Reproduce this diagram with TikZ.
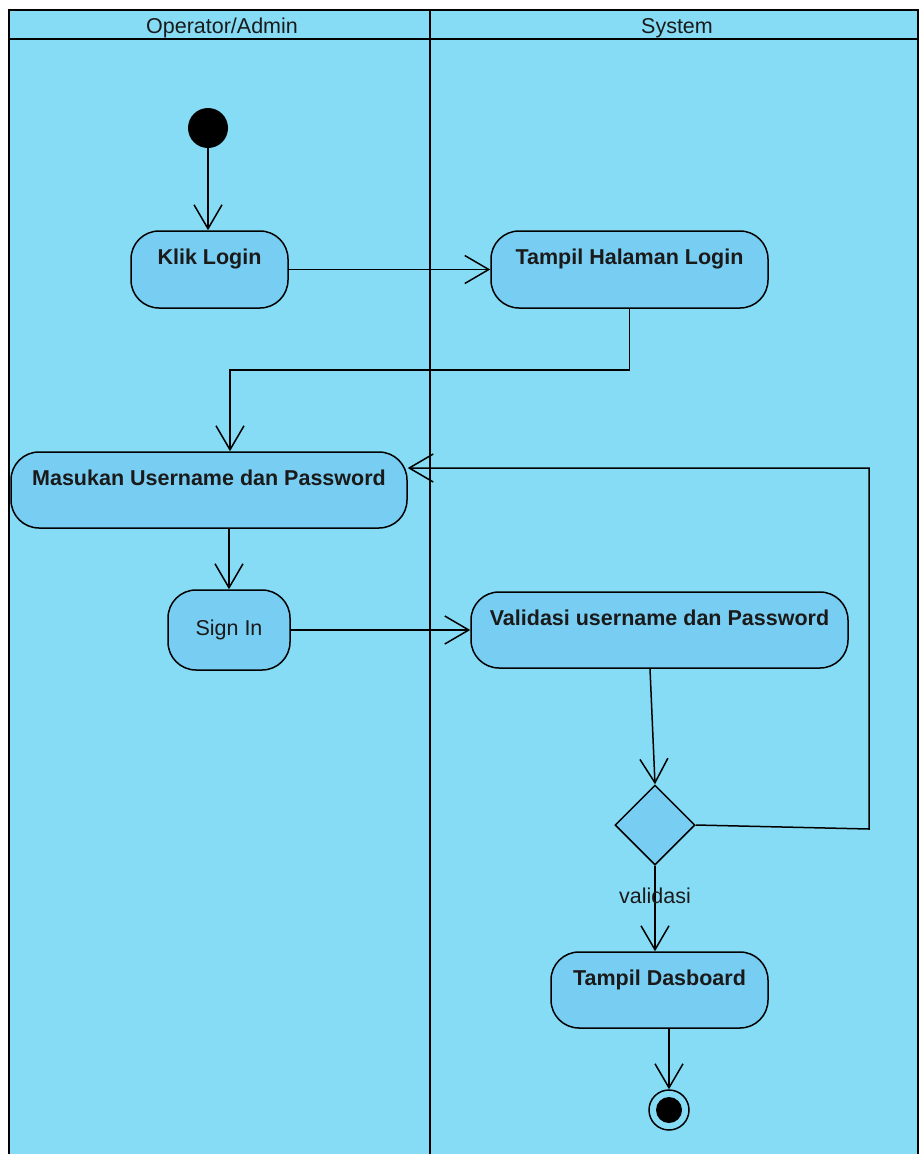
\documentclass[tikz,border=0pt]{standalone}
\usepackage{fontspec}
\setmainfont{Liberation Sans}
\usetikzlibrary{arrows.meta,shapes.geometric}
\definecolor{lanebg}{HTML}{87DCF5}
\definecolor{actfill}{HTML}{78CDF2}
\definecolor{ink}{HTML}{1A1A1A}

\begin{document}
\begin{tikzpicture}[x=1pt,y=-1pt,
  every node/.style={font=\fontsize{21.5}{24}\selectfont, text=ink},
  lane/.style={draw, line width=1.5pt, fill=lanebg},
  act/.style={draw, line width=1.5pt, fill=actfill, rounded corners=28pt,
    inner sep=0pt, font=\fontsize{21.5}{24}\selectfont\bfseries,
    text height=15pt, text depth=25pt},
  plainact/.style={draw, line width=1.5pt, fill=actfill, rounded corners=28pt,
    inner sep=0pt},
  decision/.style={diamond, draw, line width=1.5pt, fill=actfill,
    inner sep=0pt, minimum width=80pt, minimum height=80pt},
  flow/.style={line width=1.5pt,
    -{Straight Barb[length=24pt,width=28pt,line width=1.5pt]}},
]
\useasboundingbox (0,0) rectangle (919,1154);
\clip (0,0) rectangle (919,1154);

% swimlanes
\path[lane] (9,10) rectangle (918,1170);
\draw[line width=1.5pt] (9,39) -- (918,39);
\draw[line width=1.5pt] (430,10) -- (430,1170);
\node (hdr-op)  at (222,28) {Operator/Admin};
\node (hdr-sys) at (677,28) {System};

% initial and final nodes
\node[circle, fill=black, inner sep=0pt, minimum size=40pt] (start) at (208,128) {};
\node[circle, draw, line width=1.5pt, inner sep=0pt, minimum size=40pt] (fin) at (669,1110) {};
\node[circle, fill=black, inner sep=0pt, minimum size=26pt] (fin-dot) at (fin.center) {};

% actions
\node[act, minimum width=157pt, minimum height=77pt] (klik) at (209.5,269.5) {Klik Login};
\node[act, minimum width=277pt, minimum height=77pt] (thl) at (629.5,269.5) {Tampil Halaman Login};
\node[act, minimum width=396pt, minimum height=76pt] (mas) at (209,490) {Masukan Username dan Password};
\node[plainact, minimum width=122pt, minimum height=80pt] (sign) at (229,630) {Sign In};
\node[act, minimum width=377pt, minimum height=76pt] (val) at (659.5,630) {Validasi username dan Password};
\node[decision] (dec) at (655,825) {};
\node[act, minimum width=217pt, minimum height=76pt] (dash) at (659.5,990) {Tampil Dasboard};
\coordinate (loop) at (869,829);

% control flows
\draw[flow] (start) -- (start |- klik.north);
\draw[flow] (klik) -- (thl);
\draw[flow] (thl.south) -- ++(0,61) -| ([xshift=21pt]mas.north);
\draw[flow] (sign.north |- mas.south) -- (sign.north);
\draw[flow] (sign) -- (val);
\draw[flow] ([xshift=-9.5pt]val.south) -- (dec.north);
\draw[flow] (dec.east) -- (loop) |- ([yshift=22pt]mas.east);
\draw[flow] (dec.south) -- node[pos=0.35] (guard) {validasi} (dec.south |- dash.north);
\draw[flow] (fin.north |- dash.south) -- (fin.north);
\end{tikzpicture}
\end{document}
